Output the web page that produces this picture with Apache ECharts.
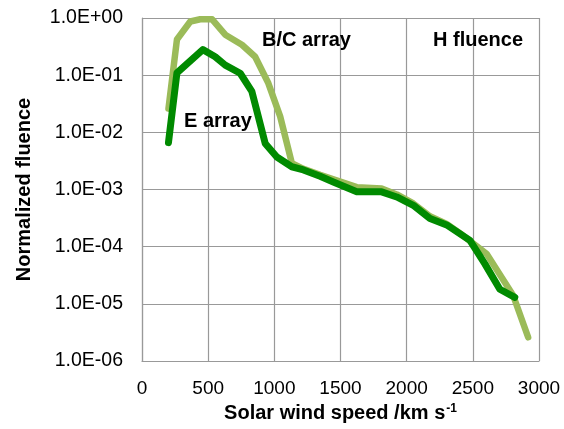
<!DOCTYPE html>
<html>
<head>
<meta charset="utf-8">
<script src="https://cdn.jsdelivr.net/npm/echarts@6/dist/echarts.min.js"></script>
<style>
html,body{margin:0;padding:0;background:#fff;}
#chart{width:564px;height:429px;}
</style>
</head>
<body>
<div id="chart"></div>
<script>
// Solar wind speed (km/s) and normalized fluence
const bcSpeed = [200, 264, 365, 440, 530, 629, 755, 855, 955, 1044, 1132, 1220, 1346, 1470, 1623, 1811, 1925, 2050, 2176, 2302, 2420, 2604, 2805, 2918];
const bcFluence = [0.026, 0.42, 0.87, 0.95, 0.95, 0.51, 0.34, 0.21, 0.072, 0.019, 0.0029, 0.0023, 0.0018, 0.00145, 0.0011, 0.00104, 0.00082, 0.00057, 0.00034, 0.00025, 0.00016, 0.000075, 0.000014, 0.0000026];

const eSpeed = [200, 264, 460, 553, 629, 742, 830, 931, 1019, 1132, 1220, 1346, 1446, 1623, 1811, 1925, 2050, 2176, 2302, 2478, 2591, 2704, 2817];
const eFluence = [0.0066, 0.11, 0.28, 0.21, 0.15, 0.108, 0.052, 0.0064, 0.0037, 0.0025, 0.0022, 0.0017, 0.00135, 0.00091, 0.00091, 0.00074, 0.00053, 0.00031, 0.00024, 0.000129, 0.00005, 0.000018, 0.000013];

const yTickLabels = ['1.0E-06', '1.0E-05', '1.0E-04', '1.0E-03', '1.0E-02', '1.0E-01', '1.0E+00'];
const xTickLabels = ['0', '500', '1000', '1500', '2000', '2500', '3000'];

const seriesNames = ['B/C array', 'E array'];
const annotations = ['B/C array', 'H fluence', 'E array'];

const FONT = 'Liberation Sans, Arial, sans-serif';
const GRID = '#999999';

const chart = echarts.init(document.getElementById('chart'), null, {renderer: 'canvas'});
chart.setOption({
  animation: false,
  backgroundColor: '#ffffff',
  grid: {left: 142, top: 18, right: 25, bottom: 68, containLabel: false, outerBoundsMode: 'none'},
  xAxis: {
    type: 'value', min: 0, max: 3000, interval: 500,
    name: 'Solar wind speed /km s{sup|-1}',
    nameLocation: 'middle', nameGap: 42,
    nameTextStyle: {
      fontFamily: FONT, fontSize: 20, fontWeight: 'bold', color: '#000',
      rich: {sup: {fontFamily: FONT, fontSize: 12, fontWeight: 'bold', color: '#000', verticalAlign: 'top', lineHeight: 12, padding: [0, 0, 10, 1]}}
    },
    axisLine: {show: true, lineStyle: {color: GRID, width: 1.2}},
    axisTick: {show: false},
    splitLine: {show: true, lineStyle: {color: GRID, width: 1.2}},
    axisLabel: {
      fontFamily: FONT, fontSize: 19, color: '#000', margin: 18,
      formatter: v => xTickLabels[Math.round(v / 500)]
    }
  },
  yAxis: {
    type: 'log', logBase: 10, min: 1e-6, max: 1,
    name: 'Normalized fluence', nameLocation: 'middle', nameGap: 108, nameRotate: 90,
    nameTextStyle: {fontFamily: FONT, fontSize: 20, fontWeight: 'bold', color: '#000'},
    axisLine: {show: true, lineStyle: {color: GRID, width: 1.2}},
    axisTick: {show: false},
    splitLine: {show: true, lineStyle: {color: GRID, width: 1.2}},
    axisLabel: {
      fontFamily: FONT, fontSize: 19.5, color: '#000', margin: 19,
      formatter: v => yTickLabels[Math.round(Math.log10(v)) + 6]
    }
  },
  series: [
    {
      name: seriesNames[0], type: 'line', showSymbol: false, symbol: 'none', clip: false,
      data: bcSpeed.map((x, i) => [x, bcFluence[i]]),
      lineStyle: {color: '#9BBB59', width: 6.5, cap: 'round', join: 'round'},
      z: 2
    },
    {
      name: seriesNames[1], type: 'line', showSymbol: false, symbol: 'none', clip: false,
      data: eSpeed.map((x, i) => [x, eFluence[i]]),
      lineStyle: {color: '#008A00', width: 7, cap: 'round', join: 'round'},
      z: 3
    }
  ],
  graphic: [
    {type: 'text', x: 262, y: 40, z: 10, style: {text: annotations[0], font: 'bold 20px ' + FONT, fill: '#000', align: 'left', verticalAlign: 'middle'}},
    {type: 'text', x: 433, y: 40, z: 10, style: {text: annotations[1], font: 'bold 20px ' + FONT, fill: '#000', align: 'left', verticalAlign: 'middle'}},
    {type: 'text', x: 184, y: 121, z: 10, style: {text: annotations[2], font: 'bold 20px ' + FONT, fill: '#000', align: 'left', verticalAlign: 'middle'}}
  ]
});
</script>
</body>
</html>
